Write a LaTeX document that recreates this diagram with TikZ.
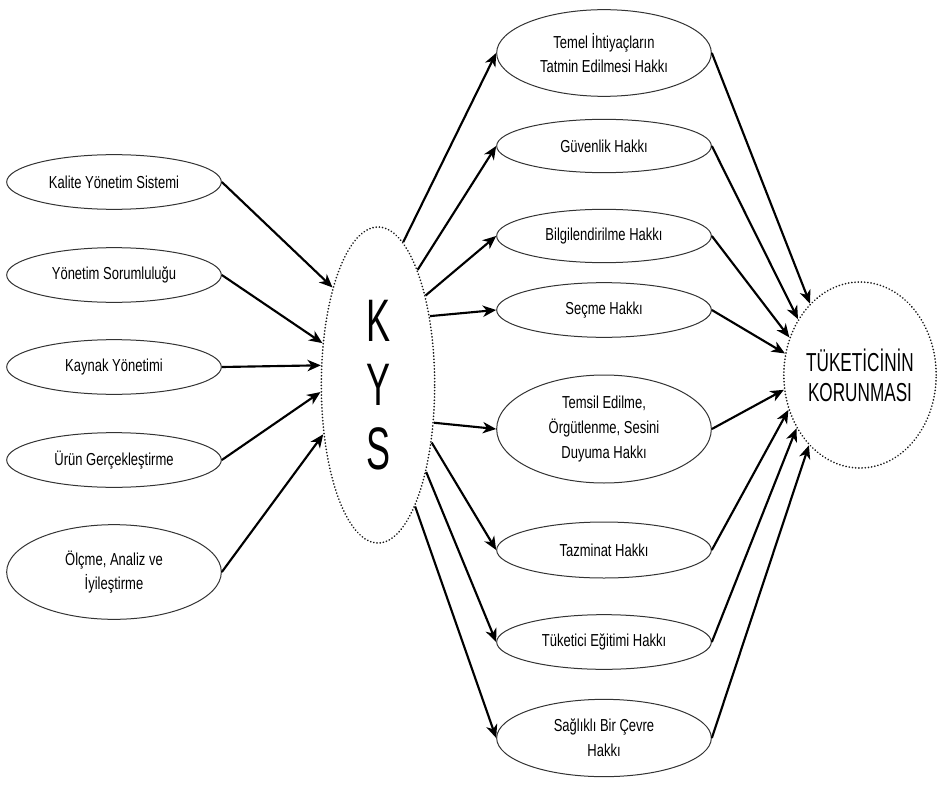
\documentclass[tikz,border=0pt]{standalone}
\usepackage{fontspec}
\setmainfont[FakeStretch=0.75]{Liberation Sans}
\newfontfamily\kysfont[FakeStretch=0.6]{Liberation Sans}
\newfontfamily\tkfont[FakeStretch=0.66]{Liberation Sans}
\usetikzlibrary{shapes.geometric,arrows.meta}
\begin{document}
\begin{tikzpicture}[x=0.75pt,y=-0.75pt,
  oval/.style={ellipse,draw=black!80,line width=0.75pt,inner sep=0pt,minimum width=161pt,
    align=center,font=\fontsize{13}{18.5}\selectfont},
  dotoval/.style={ellipse,draw=black!90,line width=1.4pt,dash pattern=on 0.01pt off 2.4pt,line cap=round,inner sep=0pt,align=center},
  arr/.style={line width=1.6pt,-{Stealth[length=10pt,width=8.5pt,inset=3pt]}}]
\useasboundingbox (0,0) rectangle (937,784);
% left
\node[oval,minimum height=41pt] (l1) at (114,182) {Kalite Yönetim Sistemi};
\node[oval,minimum height=41pt] (l2) at (114,275) {Yönetim Sorumluluğu};
\node[oval,minimum height=41pt] (l3) at (114,367) {Kaynak Yönetimi};
\node[oval,minimum height=41pt] (l4) at (114,460) {Ürün Gerçekleştirme};
\node[oval,minimum height=71pt] (l5) at (114,572) {Ölçme, Analiz ve\\İyileştirme};
% center
\node[dotoval,minimum width=85pt,minimum height=237pt,font=\kysfont\fontsize{45}{48}\selectfont] (kys) at (378,385) {K\\Y\\S};
% right
\node[oval,minimum height=65pt] (r1) at (604,53) {Temel İhtiyaçların\\Tatmin Edilmesi Hakkı};
\node[oval,minimum height=40pt] (r2) at (604,146) {Güvenlik Hakkı};
\node[oval,minimum height=40pt] (r3) at (604,236) {Bilgilendirilme Hakkı};
\node[oval,minimum height=41pt] (r4) at (604,310) {Seçme Hakkı};
\node[oval,minimum height=81pt] (r5) at (604,429) {Temsil Edilme,\\Örgütlenme, Sesini\\Duyuma Hakkı};
\node[oval,minimum height=42pt] (r6) at (604,550) {Tazminat Hakkı};
\node[oval,minimum height=41pt] (r7) at (604,642) {Tüketici Eğitimi Hakkı};
\node[oval,minimum height=58pt] (r8) at (604,738) {Sağlıklı Bir Çevre\\Hakkı};
% target
\node[dotoval,minimum width=112.5pt,minimum height=139.5pt,font=\tkfont\fontsize{19.5}{22.5}\selectfont] (tk) at (860,375) {TÜKETİCİNİN\\KORUNMASI};
% left arrows
\draw[arr] (l1.east) -- (kys.115);
\draw[arr] (l2.east) -- (kys.143);
\draw[arr] (l3.east) -- (kys.161);
\draw[arr] (l4.east) -- (kys.187);
\draw[arr] (l5.east) -- (kys.222);
% kys to right
\draw[arr] (kys.80) -- (r1.west);
\draw[arr] (kys.71) -- (r2.west);
\draw[arr] (kys.62) -- (r3.west);
\draw[arr] (kys.53) -- (r4.west);
\draw[arr] (kys.-34) -- (r5.west);
\draw[arr] (kys.-47) -- (r6.west);
\draw[arr] (kys.-61) -- (r7.west);
\draw[arr] (kys.-73) -- (r8.west);
% right to target
\draw[arr] (r1.east) -- (tk.125);
\draw[arr] (r2.east) -- (tk.138);
\draw[arr] (r3.east) -- (tk.152);
\draw[arr] (r4.east) -- (tk.164);
\draw[arr] (r5.east) -- (tk.191);
\draw[arr] (r6.east) -- (tk.206);
\draw[arr] (r7.east) -- (tk.220);
\draw[arr] (r8.east) -- (tk.234);
\end{tikzpicture}
\end{document}
